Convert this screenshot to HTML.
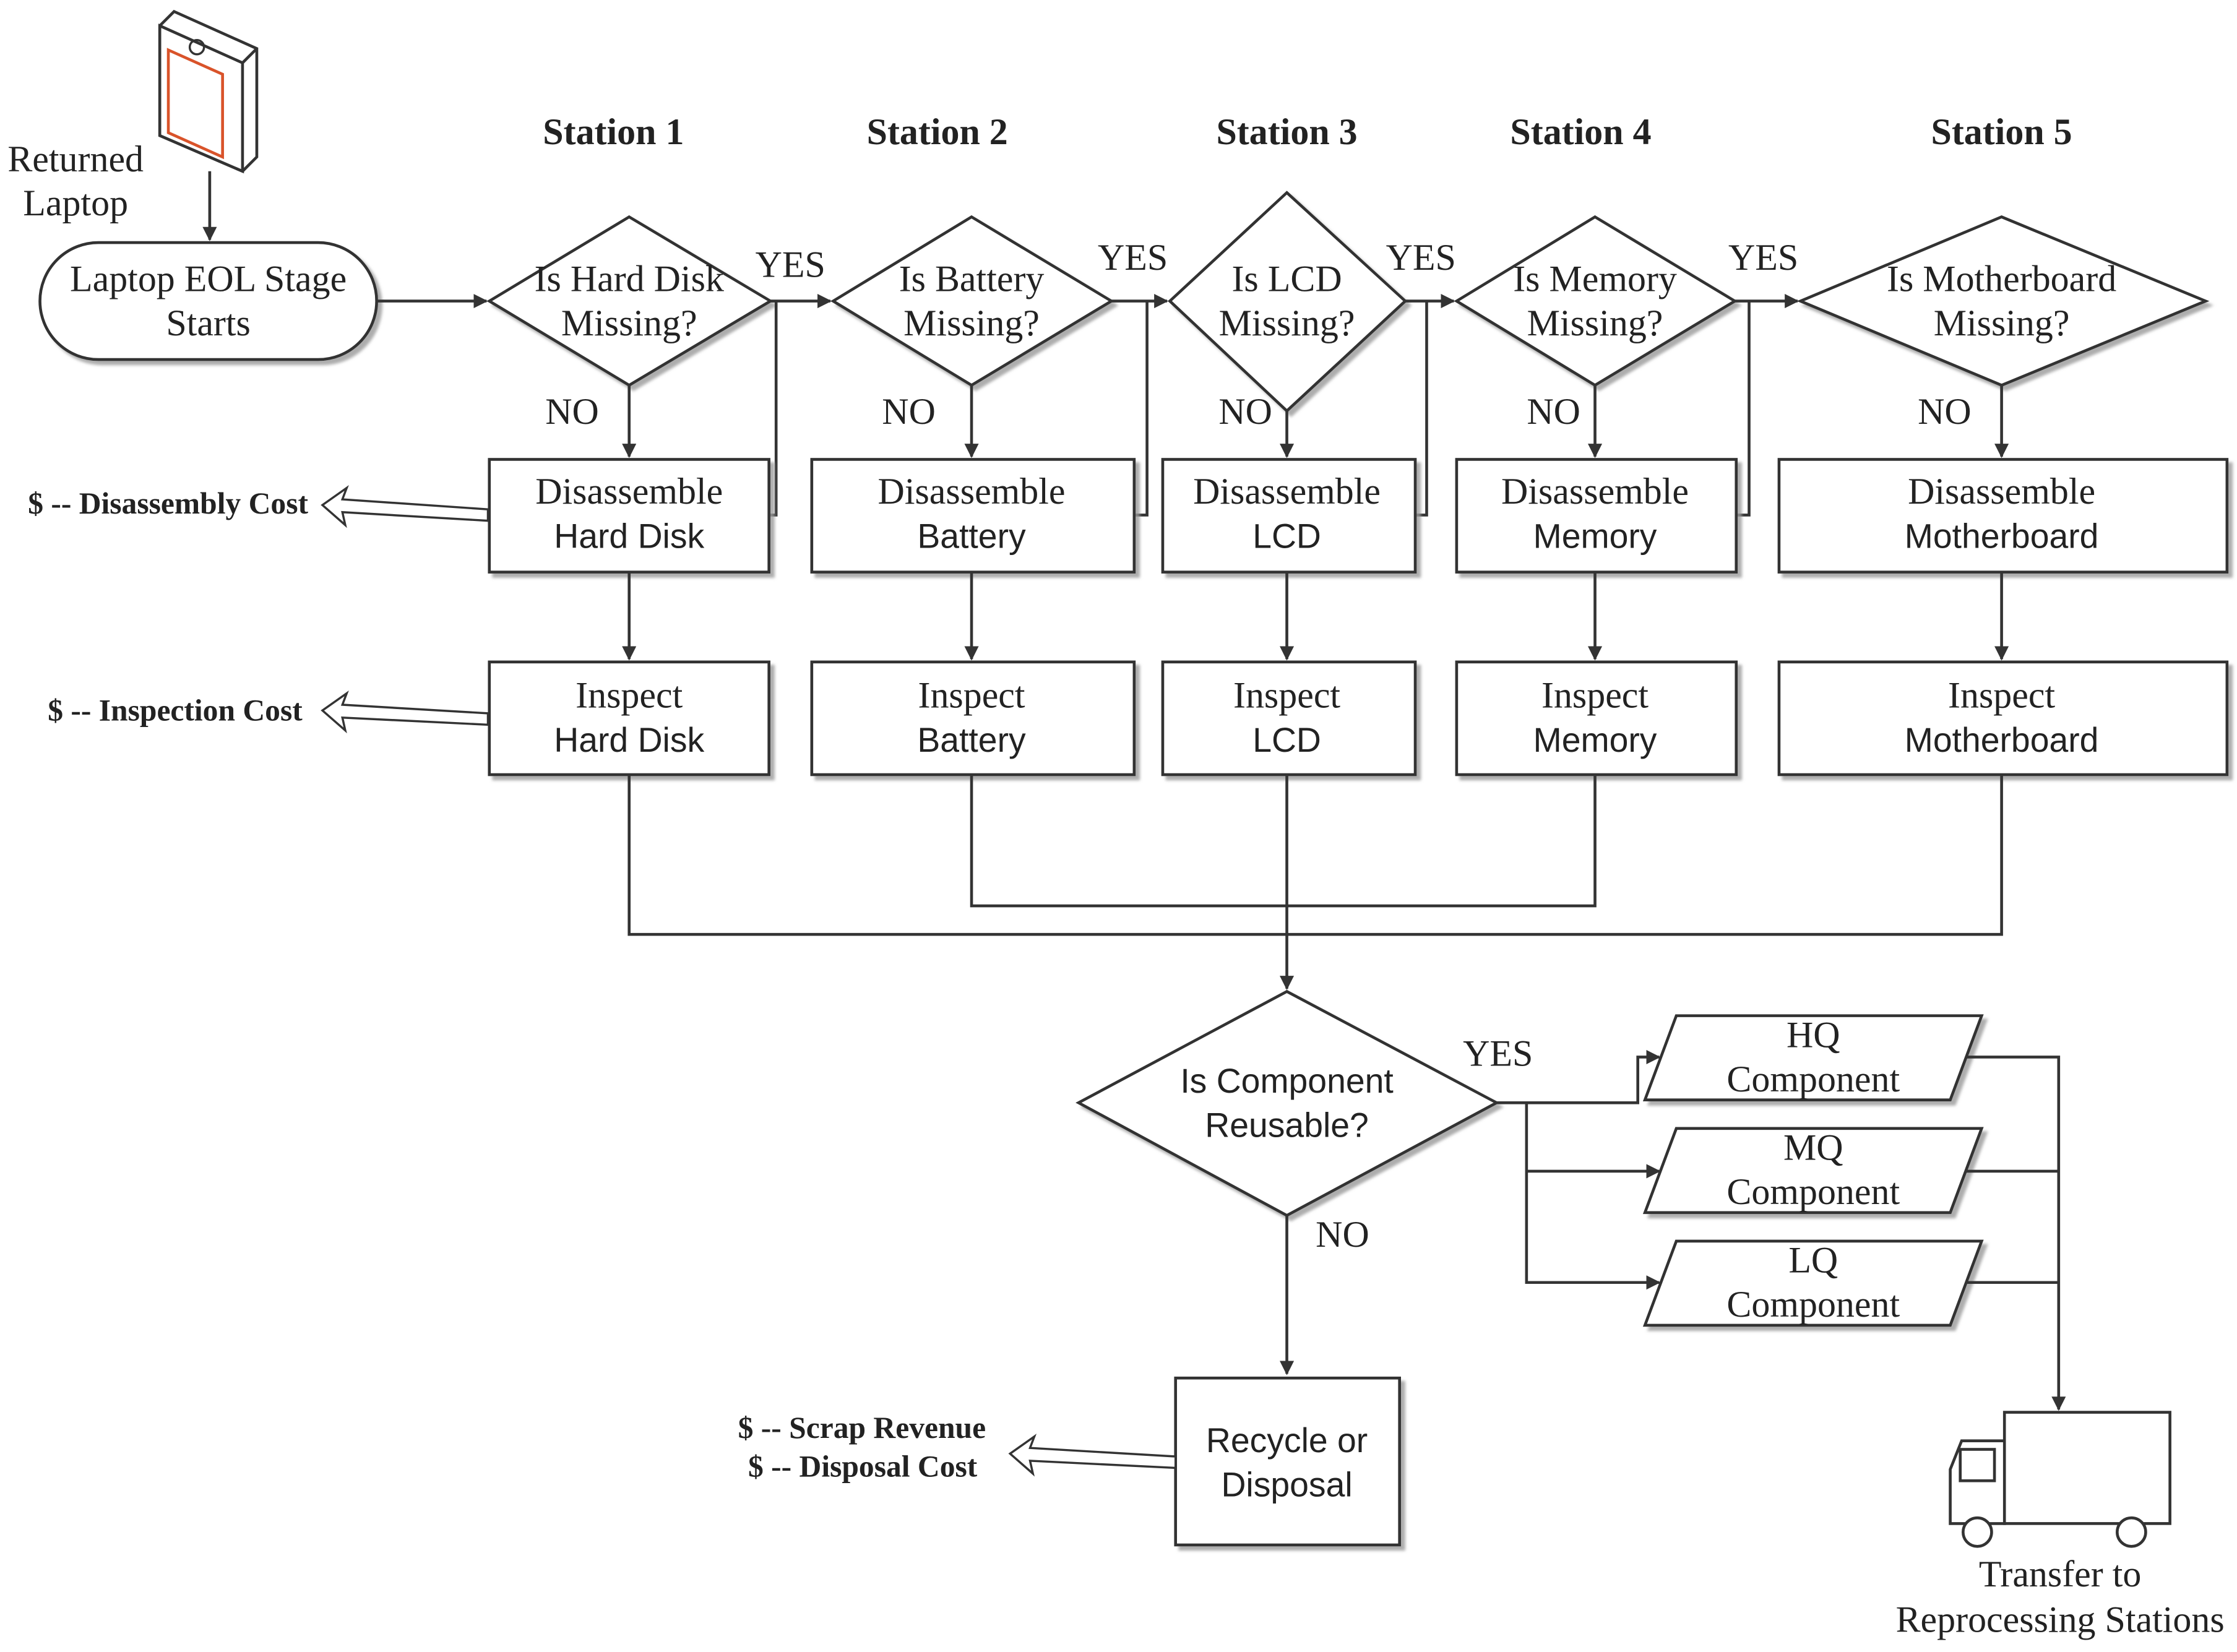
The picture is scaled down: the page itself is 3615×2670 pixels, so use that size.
<!DOCTYPE html>
<html><head><meta charset="utf-8"><style>
html,body{margin:0;padding:0;background:#fff;}
svg{display:block;}
.s{font-family:"Liberation Serif",serif;font-size:26px;}
.a{font-family:"Liberation Sans",sans-serif;font-size:24px;}
text{fill:#222;}
</style></head><body>
<svg width="3615" height="2670" viewBox="0 0 1568 1158" xmlns="http://www.w3.org/2000/svg">
<defs>
<marker id="ar" markerWidth="10" markerHeight="10" refX="9" refY="5" orient="auto" markerUnits="userSpaceOnUse">
<path d="M0,0 L10,5 L0,10 z" fill="#333"/></marker>
<filter id="sh" x="-5%" y="-5%" width="115%" height="115%"><feDropShadow dx="3" dy="3" stdDeviation="1" flood-color="#999" flood-opacity="0.8"/></filter>
</defs>
<g stroke="#333" stroke-width="2" fill="none">
<polygon points="112,18 122,8 180,34 180,110 170,120 112,95" fill="#fff"/>
<polygon points="112,18 170,44 170,120 112,95" fill="#fff"/>
<polyline points="170,44 180,34"/>
<polygon points="118,35 156,52 156,110 118,93" stroke="#d9532a" stroke-width="2"/>
<circle cx="138" cy="33" r="5" stroke-width="1.5"/>
<line x1="147" y1="120" x2="147" y2="168" marker-end="url(#ar)"/>
<rect x="28" y="170" width="236" height="82" rx="41" fill="#fff" filter="url(#sh)"/>
<line x1="264" y1="211" x2="341" y2="211" marker-end="url(#ar)"/>
<g fill="#fff" filter="url(#sh)">
<polygon points="441,152 540,211 441,270 343,211"/>
<polygon points="681,152 779,211 681,270 584,211"/>
<polygon points="902,135 985,211 902,288 820,211"/>
<polygon points="1118,152 1216,211 1118,270 1021,211"/>
<polygon points="1403,152 1546,211 1403,270 1262,211"/>
</g>
<line x1="540" y1="211" x2="582" y2="211" marker-end="url(#ar)"/>
<line x1="779" y1="211" x2="818" y2="211" marker-end="url(#ar)"/>
<line x1="985" y1="211" x2="1019" y2="211" marker-end="url(#ar)"/>
<line x1="1216" y1="211" x2="1260" y2="211" marker-end="url(#ar)"/>
<polyline points="544,211 544,361 540,361"/>
<polyline points="804,211 804,361 795,361"/>
<polyline points="1000,211 1000,361 992,361"/>
<polyline points="1226,211 1226,361 1217,361"/>
<line x1="441" y1="270" x2="441" y2="320" marker-end="url(#ar)"/>
<line x1="681" y1="270" x2="681" y2="320" marker-end="url(#ar)"/>
<line x1="902" y1="288" x2="902" y2="320" marker-end="url(#ar)"/>
<line x1="1118" y1="270" x2="1118" y2="320" marker-end="url(#ar)"/>
<line x1="1403" y1="270" x2="1403" y2="320" marker-end="url(#ar)"/>
<g fill="#fff" filter="url(#sh)">
<rect x="343" y="322" width="196" height="79"/>
<rect x="569" y="322" width="226" height="79"/>
<rect x="815" y="322" width="177" height="79"/>
<rect x="1021" y="322" width="196" height="79"/>
<rect x="1247" y="322" width="314" height="79"/>
<rect x="343" y="464" width="196" height="79"/>
<rect x="569" y="464" width="226" height="79"/>
<rect x="815" y="464" width="177" height="79"/>
<rect x="1021" y="464" width="196" height="79"/>
<rect x="1247" y="464" width="314" height="79"/>
</g>
<line x1="441" y1="401" x2="441" y2="462" marker-end="url(#ar)"/>
<line x1="681" y1="401" x2="681" y2="462" marker-end="url(#ar)"/>
<line x1="902" y1="401" x2="902" y2="462" marker-end="url(#ar)"/>
<line x1="1118" y1="401" x2="1118" y2="462" marker-end="url(#ar)"/>
<line x1="1403" y1="401" x2="1403" y2="462" marker-end="url(#ar)"/>
<polyline points="441,543 441,655 1403,655 1403,543"/>
<polyline points="681,543 681,635 1118,635 1118,543"/>
<line x1="902" y1="543" x2="902" y2="693" marker-end="url(#ar)"/>
<polygon points="902,695 1049,773 902,852 756,773" fill="#fff" filter="url(#sh)"/>
<polyline points="1049,773 1148,773 1148,741 1163,741" marker-end="url(#ar)"/>
<polyline points="1070,773 1070,899 1163,899" marker-end="url(#ar)"/>
<line x1="1070" y1="821" x2="1163" y2="821" marker-end="url(#ar)"/>
<g fill="#fff" filter="url(#sh)">
<polygon points="1175,712 1389,712 1367,771 1153,771"/>
<polygon points="1175,791 1389,791 1367,850 1153,850"/>
<polygon points="1175,870 1389,870 1367,929 1153,929"/>
</g>
<polyline points="1378,741 1443,741 1443,988" marker-end="url(#ar)"/>
<line x1="1378" y1="821" x2="1443" y2="821"/>
<line x1="1378" y1="899" x2="1443" y2="899"/>
<line x1="902" y1="852" x2="902" y2="963" marker-end="url(#ar)"/>
<rect x="824" y="966" width="157" height="117" fill="#fff" filter="url(#sh)"/>
<rect x="1405" y="990" width="116" height="78" fill="#fff"/>
<polygon points="1405,1010 1375,1010 1367,1030 1367,1068 1405,1068" fill="#fff"/>
<rect x="1374" y="1016" width="24" height="22"/>
<circle cx="1386" cy="1074" r="10" fill="#fff"/>
<circle cx="1494" cy="1074" r="10" fill="#fff"/>
<polygon points="342,357 240,350 243,342 226,354 242,368 240,359 342,365" fill="#fff" stroke-width="1.5"/>
<polygon points="342,500 240,494 243,486 226,498 242,512 240,503 342,508" fill="#fff" stroke-width="1.5"/>
<polygon points="824,1021 722,1015 725,1007 708,1019 724,1033 722,1024 824,1029" fill="#fff" stroke-width="1.5"/>
</g>
<g text-anchor="middle">
<text class="s" x="53" y="120">Returned</text>
<text class="s" x="53" y="151">Laptop</text>
<text class="s" x="146" y="204">Laptop EOL Stage</text>
<text class="s" x="146" y="235">Starts</text>
<g font-weight="bold">
<text class="s" x="430" y="101">Station 1</text>
<text class="s" x="657" y="101">Station 2</text>
<text class="s" x="902" y="101">Station 3</text>
<text class="s" x="1108" y="101">Station 4</text>
<text class="s" x="1403" y="101">Station 5</text>
</g>
<text class="s" x="441" y="204">Is Hard Disk</text><text class="s" x="441" y="235">Missing?</text>
<text class="s" x="681" y="204">Is Battery</text><text class="s" x="681" y="235">Missing?</text>
<text class="s" x="902" y="204">Is LCD</text><text class="s" x="902" y="235">Missing?</text>
<text class="s" x="1118" y="204">Is Memory</text><text class="s" x="1118" y="235">Missing?</text>
<text class="s" x="1403" y="204">Is Motherboard</text><text class="s" x="1403" y="235">Missing?</text>
<text class="s" x="554" y="194">YES</text><text class="s" x="794" y="189">YES</text>
<text class="s" x="996" y="189">YES</text><text class="s" x="1236" y="189">YES</text>
<text class="s" x="401" y="297">NO</text><text class="s" x="637" y="297">NO</text>
<text class="s" x="873" y="297">NO</text><text class="s" x="1089" y="297">NO</text>
<text class="s" x="1363" y="297">NO</text>
<text class="s" x="441" y="353">Disassemble</text><text class="a" x="441" y="384">Hard Disk</text>
<text class="s" x="681" y="353">Disassemble</text><text class="a" x="681" y="384">Battery</text>
<text class="s" x="902" y="353">Disassemble</text><text class="a" x="902" y="384">LCD</text>
<text class="s" x="1118" y="353">Disassemble</text><text class="a" x="1118" y="384">Memory</text>
<text class="s" x="1403" y="353">Disassemble</text><text class="a" x="1403" y="384">Motherboard</text>
<text class="s" x="441" y="496">Inspect</text><text class="a" x="441" y="527">Hard Disk</text>
<text class="s" x="681" y="496">Inspect</text><text class="a" x="681" y="527">Battery</text>
<text class="s" x="902" y="496">Inspect</text><text class="a" x="902" y="527">LCD</text>
<text class="s" x="1118" y="496">Inspect</text><text class="a" x="1118" y="527">Memory</text>
<text class="s" x="1403" y="496">Inspect</text><text class="a" x="1403" y="527">Motherboard</text>
<text class="a" x="902" y="766">Is Component</text>
<text class="a" x="902" y="797">Reusable?</text>
<text class="s" x="1050" y="747">YES</text>
<text class="s" x="941" y="874">NO</text>
<text class="s" x="1271" y="734">HQ</text><text class="s" x="1271" y="765">Component</text>
<text class="s" x="1271" y="813">MQ</text><text class="s" x="1271" y="844">Component</text>
<text class="s" x="1271" y="892">LQ</text><text class="s" x="1271" y="923">Component</text>
<text class="a" x="902" y="1018">Recycle or</text>
<text class="a" x="902" y="1049">Disposal</text>
<text class="s" x="1444" y="1112">Transfer to</text>
<text class="s" x="1444" y="1144">Reprocessing Stations</text>
<g font-weight="bold" text-anchor="end">
<text class="s" x="216" y="360" style="font-size:21.5px">$ -- Disassembly Cost</text>
<text class="s" x="212" y="505" style="font-size:21.5px">$ -- Inspection Cost</text>
<text class="s" x="691" y="1008" style="font-size:21.5px">$ -- Scrap Revenue</text>
<text class="s" x="685" y="1035" style="font-size:21.5px">$ -- Disposal Cost</text>
</g>
</g>
</svg>
</body></html>
